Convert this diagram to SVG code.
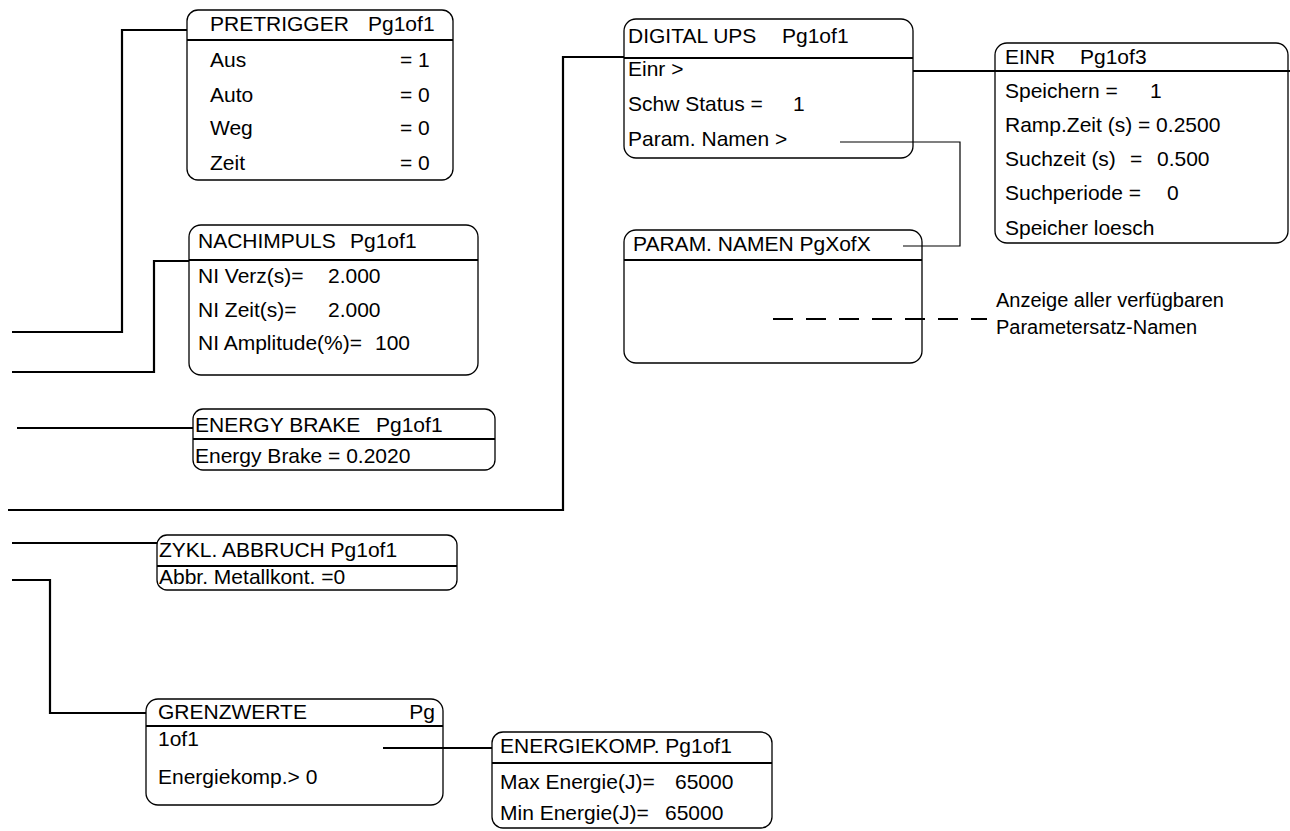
<svg xmlns="http://www.w3.org/2000/svg" width="1290" height="831" viewBox="0 0 1290 831" xml:space="preserve">
<style>
text{font-family:"Liberation Sans",Arial,sans-serif;font-size:21px;fill:#000}
.box{fill:none;stroke:#000;stroke-width:1.3}
.hdr{stroke:#000;stroke-width:2.2}
.con{fill:none;stroke:#000;stroke-width:2.2}
.thin{fill:none;stroke:#000;stroke-width:1.2}
.dash{fill:none;stroke:#000;stroke-width:2.2;stroke-dasharray:20 13}
.note{font-size:20px}
</style>
<rect width="1290" height="831" fill="#fff"/>
<g id="connectors">
<polyline class="con" points="12,332 122,332 122,30 187,30"/>
<polyline class="con" points="12,372 154,372 154,261 189,261"/>
<polyline class="con" points="17,428 193,428"/>
<polyline class="con" points="8,510 563,510 563,57 624,57"/>
<polyline class="con" points="12,543 157,543"/>
<polyline class="con" points="12,580 50,580 50,713 146,713"/>
<polyline class="con" points="383,748 492,748"/>
<polyline class="con" points="913,71 995,71"/>
<polyline class="thin" points="840,142 960,142 960,246 903,246"/>
<polyline class="dash" points="773,319 987,319"/>
</g>
<g id="pretrigger">
<rect class="box" x="187" y="10" width="266" height="170" rx="11"/>
<line class="hdr" x1="187" y1="40" x2="453" y2="40"/>
<text x="210" y="31">PRETRIGGER</text><text x="368" y="31">Pg1of1</text>
<text x="210" y="67">Aus</text><text x="400" y="67">= 1</text>
<text x="210" y="102">Auto</text><text x="400" y="102">= 0</text>
<text x="210" y="135">Weg</text><text x="400" y="135">= 0</text>
<text x="210" y="170">Zeit</text><text x="400" y="170">= 0</text>
</g>
<g id="nachimpuls">
<rect class="box" x="189" y="225" width="289" height="150" rx="12"/>
<line class="hdr" x1="189" y1="260" x2="478" y2="260"/>
<text x="198" y="248">NACHIMPULS</text><text x="350" y="248">Pg1of1</text>
<text x="198" y="283">NI Verz(s)=</text><text x="328" y="283">2.000</text>
<text x="198" y="317">NI Zeit(s)=</text><text x="328" y="317">2.000</text>
<text x="198" y="350">NI Amplitude(%)=</text><text x="375" y="350">100</text>
</g>
<g id="energybrake">
<rect class="box" x="193" y="409" width="302" height="61" rx="10"/>
<line class="hdr" x1="193" y1="439" x2="495" y2="439"/>
<text x="195" y="432">ENERGY BRAKE</text><text x="376" y="432">Pg1of1</text>
<text x="195" y="463">Energy Brake  = 0.2020</text>
</g>
<g id="zyklabbruch">
<rect class="box" x="157" y="535" width="300" height="55" rx="10"/>
<line class="hdr" x1="157" y1="566" x2="457" y2="566"/>
<text x="159" y="557">ZYKL. ABBRUCH Pg1of1</text>
<text x="159" y="584">Abbr. Metallkont. =0</text>
</g>
<g id="grenzwerte">
<rect class="box" x="146" y="699" width="297" height="106" rx="12"/>
<line class="hdr" x1="146" y1="726" x2="443" y2="726"/>
<text x="158" y="719">GRENZWERTE</text><text x="435" y="719" text-anchor="end">Pg</text>
<text x="158" y="746">1of1</text>
<text x="158" y="784">Energiekomp.&gt; 0</text>
</g>
<g id="energiekomp">
<rect class="box" x="492" y="732" width="280" height="96" rx="11"/>
<line class="hdr" x1="492" y1="763" x2="772" y2="763"/>
<text x="500" y="753">ENERGIEKOMP. Pg1of1</text>
<text x="500" y="789">Max Energie(J)=</text><text x="675" y="789">65000</text>
<text x="500" y="820">Min Energie(J)=</text><text x="665" y="820">65000</text>
</g>
<g id="digitalups">
<rect class="box" x="624" y="19" width="289" height="139" rx="12"/>
<line class="hdr" x1="624" y1="58" x2="913" y2="58"/>
<text x="628" y="43">DIGITAL UPS</text><text x="782" y="43">Pg1of1</text>
<text x="628" y="76">Einr &gt;</text>
<text x="628" y="111">Schw Status =</text><text x="793" y="111">1</text>
<text x="628" y="146">Param. Namen &gt;</text>
</g>
<g id="einr">
<rect class="box" x="995" y="43" width="293" height="200" rx="12"/>
<line class="hdr" x1="995" y1="71" x2="1290" y2="71"/>
<text x="1005" y="64">EINR</text><text x="1080" y="64">Pg1of3</text>
<text x="1005" y="98">Speichern =</text><text x="1150" y="98">1</text>
<text x="1005" y="132">Ramp.Zeit (s) = 0.2500</text>
<text x="1005" y="166">Suchzeit (s)</text><text x="1130" y="166">=</text><text x="1157" y="166">0.500</text>
<text x="1005" y="200">Suchperiode =</text><text x="1167" y="200">0</text>
<text x="1005" y="235">Speicher loesch</text>
</g>
<g id="paramnamen">
<rect class="box" x="624" y="230" width="298" height="133" rx="12"/>
<line class="hdr" x1="624" y1="260" x2="922" y2="260"/>
<text x="633" y="251">PARAM. NAMEN PgXofX</text>
</g>
<g id="note">
<text class="note" x="996" y="307">Anzeige aller verfügbaren</text>
<text class="note" x="996" y="334">Parametersatz-Namen</text>
</g>
</svg>
